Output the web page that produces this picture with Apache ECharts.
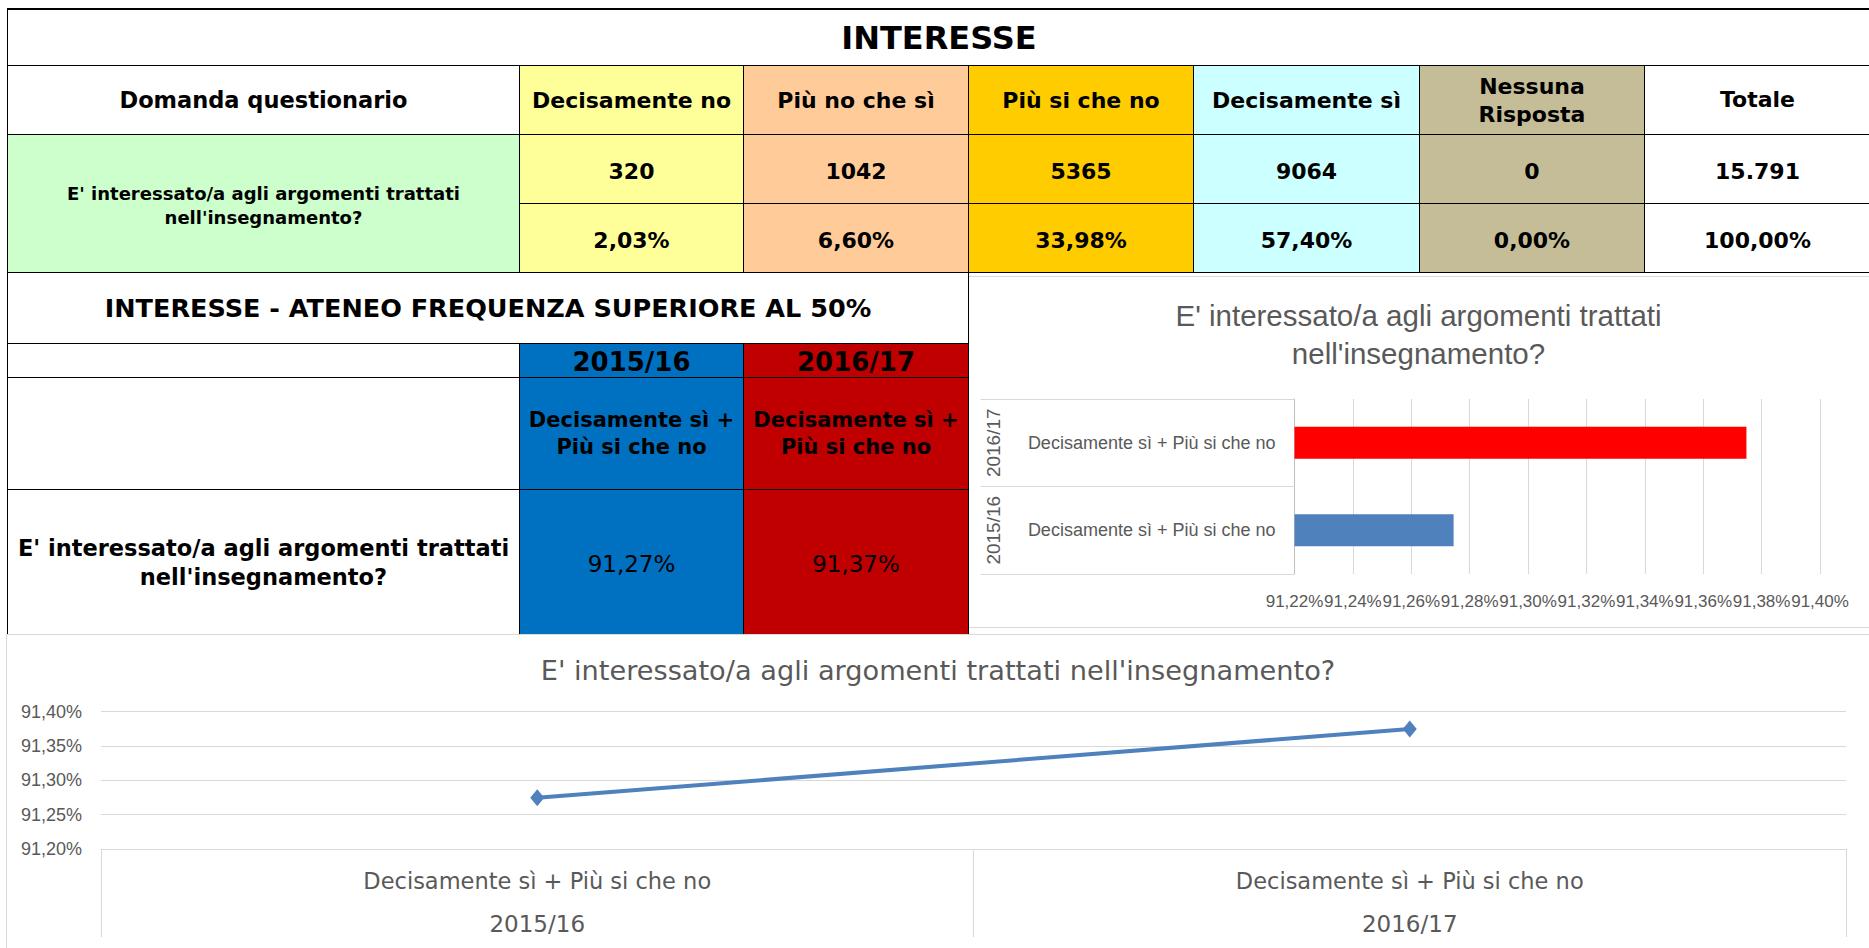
<!DOCTYPE html>
<html><head><meta charset="utf-8">
<script src="https://cdn.jsdelivr.net/npm/echarts@6/dist/echarts.min.js"></script>
<style>
html,body{margin:0;padding:0;background:#fff;width:1869px;height:948px;overflow:hidden;position:relative}
.c{position:absolute;box-sizing:border-box;border:1px solid #000;display:flex;align-items:center;justify-content:center;text-align:center;font-family:"DejaVu Sans",sans-serif;font-weight:bold;color:#000;white-space:pre-line;}
.box{position:absolute;box-sizing:border-box;border:1px solid #d9d9d9;}
</style></head><body>
<div class="box" style="left:968px;top:276px;width:903px;height:352px"></div>
<div id="bar" style="position:absolute;left:968px;top:276px;width:901px;height:351px"></div>
<div class="box" style="left:6px;top:634px;width:1866px;height:320px"></div>
<div id="line" style="position:absolute;left:7px;top:634px;width:1862px;height:314px"></div>
<div id="t"></div>
<script>
// ---------- data ----------
const mainTitle = 'INTERESSE';
const questionHeader = 'Domanda questionario';
const questionLines = ["E' interessato/a agli argomenti trattati", "nell'insegnamento?"];
const answerCategories = ['Decisamente no', 'Più no che sì', 'Più si che no', 'Decisamente sì', 'Nessuna\nRisposta'];
const answerColors = ['#FFFF99', '#FFCC99', '#FFCC00', '#CCFFFF', '#C4BD97'];
const totalHeader = 'Totale';
const answerCounts = [320, 1042, 5365, 9064, 0];
const totalCount = '15.791';
const answerPercents = ['2,03%', '6,60%', '33,98%', '57,40%', '0,00%'];
const totalPercent = '100,00%';
const sectionTitle = 'INTERESSE - ATENEO FREQUENZA SUPERIORE AL 50%';
const years = ['2015/16', '2016/17'];
const yearHeaderColors = ['#0070C0', '#C00000'];
const groupLabelLines = ['Decisamente sì +', 'Più si che no'];
const groupLabel = 'Decisamente sì + Più si che no';
const groupValues = [91.2745, 91.3748];   // % Decisamente sì + Più si che no
const barColors = ['#4F81BD', '#FF0000'];
const barTicks = { min: 91.22, max: 91.40, interval: 0.02 };
const lineTicks = { min: 91.20, max: 91.40, interval: 0.05 };

// ---------- tables ----------
const T = document.getElementById('t');
function cell(x1, y1, x2, y2, text, o) {
  o = o || {};
  const d = document.createElement('div');
  d.className = 'c';
  d.style.left = x1 + 'px'; d.style.top = y1 + 'px';
  d.style.width = (x2 - x1 + 1) + 'px'; d.style.height = (y2 - y1 + 1) + 'px';
  d.style.background = o.bg || '#fff';
  const fs = o.fs || 22;
  d.style.fontSize = fs + 'px';
  d.style.lineHeight = (o.lh || Math.round(fs * 1.2)) + 'px';
  if (o.weight) d.style.fontWeight = o.weight;
  if (o.pt) d.style.paddingTop = o.pt + 'px';
  if (o.noBottom) d.style.borderBottom = 'none';
  if (o.topW) d.style.borderTopWidth = o.topW + 'px';
  d.textContent = text;
  T.appendChild(d);
}
const cx = [7, 519, 743, 968, 1193, 1419, 1644, 1870];
const ry = [8, 65, 134, 203, 272];
cell(cx[0], ry[0], cx[7], ry[1], mainTitle, { fs: 32, topW: 2 });
cell(cx[0], ry[1], cx[1], ry[2], questionHeader, { fs: 22.5 });
answerCategories.forEach((c, i) => cell(cx[i + 1], ry[1], cx[i + 2], ry[2], c, { bg: answerColors[i], fs: 22, lh: 28, pt: 2 }));
cell(cx[6], ry[1], cx[7], ry[2], totalHeader, { fs: 22 });
cell(cx[0], ry[2], cx[1], ry[4], questionLines.join('\n'), { bg: '#CCFFCC', fs: 18, lh: 24, pt: 4 });
answerCounts.forEach((v, i) => cell(cx[i + 1], ry[2], cx[i + 2], ry[3], String(v), { bg: answerColors[i], fs: 22, pt: 6 }));
cell(cx[6], ry[2], cx[7], ry[3], totalCount, { fs: 22, pt: 6 });
answerPercents.forEach((v, i) => cell(cx[i + 1], ry[3], cx[i + 2], ry[4], v, { bg: answerColors[i], fs: 22, pt: 6 }));
cell(cx[6], ry[3], cx[7], ry[4], totalPercent, { fs: 22, pt: 6 });

const cx2 = [7, 519, 743, 968];
const ry2 = [272, 343, 377, 489, 633];
cell(cx2[0], ry2[0], cx2[3], ry2[1], sectionTitle, { fs: 25.5 });
cell(cx2[0], ry2[1], cx2[1], ry2[2], '');
cell(cx2[0], ry2[2], cx2[1], ry2[3], '');
cell(cx2[0], ry2[3], cx2[1], ry2[4], questionLines.join('\n'), { fs: 22.5, lh: 29, noBottom: true, pt: 2 });
const fmtPct = v => v.toFixed(2).replace('.', ',') + '%';
years.forEach((y, i) => {
  cell(cx2[i + 1], ry2[1], cx2[i + 2], ry2[2], y, { bg: yearHeaderColors[i], fs: 26, pt: 3 });
  cell(cx2[i + 1], ry2[2], cx2[i + 2], ry2[3], groupLabelLines.join('\n'), { bg: yearHeaderColors[i], fs: 21, lh: 27 });
  cell(cx2[i + 1], ry2[3], cx2[i + 2], ry2[4], fmtPct(groupValues[i]), { bg: yearHeaderColors[i], fs: 23, weight: 'normal', noBottom: true, pt: 4 });
});

// ---------- bar chart ----------
const gray = '#595959';
const barChart = echarts.init(document.getElementById('bar'), null, { renderer: 'svg' });
barChart.setOption({
  animation: false,
  title: {
    text: questionLines.join('\n'), left: 'center', top: 20, padding: 0,
    textStyle: { fontFamily: 'Liberation Sans', fontSize: 29.5, fontWeight: 'normal', color: gray, lineHeight: 38 }
  },
  grid: { left: 326.5, right: 49, top: 123, bottom: 53, containLabel: false, outerBoundsMode: 'none' },
  xAxis: {
    type: 'value', min: barTicks.min, max: barTicks.max, interval: barTicks.interval, startValue: barTicks.min,
    axisLine: { show: false }, axisTick: { show: false },
    splitLine: { show: true, lineStyle: { color: '#d9d9d9', width: 1 } },
    axisLabel: { formatter: fmtPct, color: gray, fontFamily: 'Liberation Sans', fontSize: 17, margin: 19, showMinLabel: true, showMaxLabel: true, hideOverlap: false }
  },
  yAxis: [
    {
      type: 'category', data: years.map(() => groupLabel), position: 'left',
      axisLine: { show: true, lineStyle: { color: '#bfbfbf', width: 1 } },
      axisTick: { show: true, length: 314, alignWithLabel: false, lineStyle: { color: '#d9d9d9', width: 1 } },
      axisLabel: { interval: 0, color: gray, fontFamily: 'Liberation Sans', fontSize: 18, margin: 19 },
      splitLine: { show: false }
    },
    {
      type: 'category', data: years, position: 'left',
      axisLine: { show: false }, axisTick: { show: false }, splitLine: { show: false },
      axisLabel: { interval: 0, rotate: 90, color: gray, fontFamily: 'Liberation Sans', fontSize: 19, margin: 292, hideOverlap: false }
    }
  ],
  series: [{
    type: 'bar', yAxisIndex: 0, barWidth: 32,
    data: groupValues.map((v, i) => ({ value: v, itemStyle: { color: barColors[i] } }))
  }]
});

// ---------- line chart ----------
const lineChart = echarts.init(document.getElementById('line'), null, { renderer: 'svg' });
lineChart.setOption({
  animation: false,
  title: {
    text: questionLines.join(' '), left: 'center', top: 22, padding: 0,
    textStyle: { fontFamily: 'DejaVu Sans', fontSize: 27.2, fontWeight: 'normal', color: gray, lineHeight: 28 }
  },
  grid: { left: 94, right: 23, top: 77.7, bottom: 99, containLabel: false, outerBoundsMode: 'none' },
  xAxis: [
    {
      type: 'category', data: years.map(() => groupLabel), position: 'bottom', boundaryGap: true,
      axisLine: { show: true, lineStyle: { color: '#d9d9d9', width: 1 } },
      axisTick: { show: true, length: 88, alignWithLabel: false, lineStyle: { color: '#d9d9d9', width: 1 } },
      axisLabel: { interval: 0, color: gray, fontFamily: 'DejaVu Sans', fontSize: 22.5, margin: 20 },
      splitLine: { show: false }
    },
    {
      type: 'category', data: years, position: 'bottom', boundaryGap: true,
      axisLine: { show: false }, axisTick: { show: false }, splitLine: { show: false },
      axisLabel: { interval: 0, color: gray, fontFamily: 'DejaVu Sans', fontSize: 23, margin: 63 }
    }
  ],
  yAxis: {
    type: 'value', min: lineTicks.min, max: lineTicks.max, interval: lineTicks.interval,
    axisLine: { show: false }, axisTick: { show: false },
    splitLine: { show: true, lineStyle: { color: '#d9d9d9', width: 1 } },
    axisLabel: { formatter: fmtPct, color: gray, fontFamily: 'Liberation Sans', fontSize: 18, margin: 19, showMinLabel: true, showMaxLabel: true }
  },
  series: [{
    type: 'line', xAxisIndex: 0, data: groupValues, symbol: 'diamond', symbolSize: [14, 17],
    lineStyle: { color: '#4F81BD', width: 4 }, itemStyle: { color: '#4F81BD' }
  }]
});
</script>
</body></html>
